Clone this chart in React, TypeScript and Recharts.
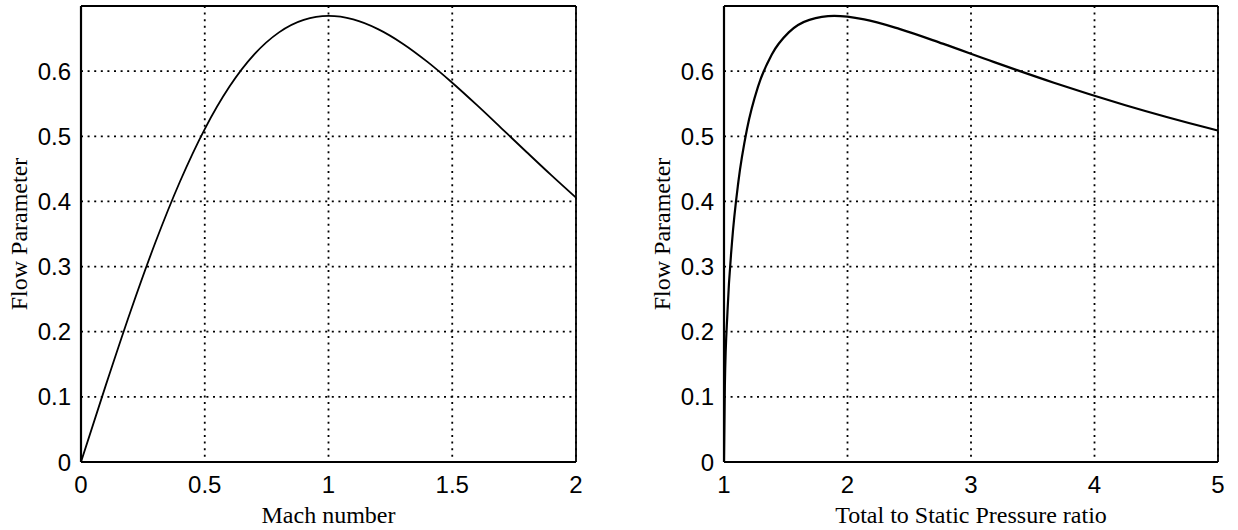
import React from 'react';
import { LineChart, Line, XAxis, YAxis, CartesianGrid, ReferenceLine, Label } from 'recharts';

// Left panel: Mach number vs flow parameter
const machNumbers = [0, 0.1, 0.2, 0.3, 0.4, 0.5, 0.6, 0.7, 0.8, 0.9, 1.0, 1.1, 1.2, 1.3, 1.4, 1.5, 1.6, 1.7, 1.8, 1.9, 2.0];
const flowParamMach = [0, 0.1176, 0.2311, 0.3365, 0.4306, 0.5111, 0.5763, 0.6257, 0.6595, 0.6787, 0.6847, 0.6794, 0.6645, 0.6422, 0.6142, 0.5822, 0.5477, 0.5119, 0.4759, 0.4403, 0.4058];

// Right panel: total-to-static pressure ratio vs flow parameter
const pressureRatios = [1, 1.007, 1.0283, 1.0644, 1.1166, 1.1862, 1.2755, 1.3871, 1.5243, 1.6913, 1.8929, 2.1351, 2.425, 2.7707, 3.1823, 3.671, 4.2504, 4.936, 5];
const flowParamRatio = [0, 0.1176, 0.2311, 0.3365, 0.4306, 0.5111, 0.5763, 0.6257, 0.6595, 0.6787, 0.6847, 0.6794, 0.6645, 0.6422, 0.6142, 0.5822, 0.5477, 0.5119, 0.5088];

const yTicks = [0, 0.1, 0.2, 0.3, 0.4, 0.5, 0.6];
const machTicks = [0, 0.5, 1, 1.5, 2];
const ratioTicks = [1, 2, 3, 4, 5];

const leftData = machNumbers.map((x, i) => ({ x, y: flowParamMach[i] }));
const rightData = pressureRatios.map((x, i) => ({ x, y: flowParamRatio[i] }));

const SANS = 'Liberation Sans, Arial, Helvetica, sans-serif';
const SERIF = 'Liberation Serif, Times New Roman, Times, serif';
const tickStyle = { fill: '#000', fontSize: 24, fontFamily: SANS };
const labelStyle = { fill: '#000', fontSize: 24, fontFamily: SERIF };

type PanelProps = {
  data: { x: number; y: number }[];
  width: number;
  yAxisWidth: number;
  rightMargin: number;
  xDomain: [number, number];
  xTicks: number[];
  xLabel: string;
  yLabelOffset: number;
  lineWidth: number;
};

function Panel(p: PanelProps) {
  return (
    <LineChart width={p.width} height={530} data={p.data} margin={{ top: 6, right: p.rightMargin, bottom: 0, left: 0 }}>
      <CartesianGrid stroke="#000" strokeDasharray="2 4.6" strokeWidth={1.8} />
      <XAxis
        type="number"
        dataKey="x"
        domain={p.xDomain}
        ticks={p.xTicks}
        allowDataOverflow
        tickLine={false}
        tickSize={0}
        tickMargin={14}
        height={68}
        axisLine={{ stroke: '#000', strokeWidth: 2.2 }}
        tick={tickStyle}
      >
        <Label value={p.xLabel} position="insideBottom" offset={7} style={labelStyle} />
      </XAxis>
      <YAxis
        type="number"
        domain={[0, 0.7]}
        ticks={yTicks}
        allowDataOverflow
        tickLine={false}
        tickSize={0}
        tickMargin={10}
        width={p.yAxisWidth}
        axisLine={{ stroke: '#000', strokeWidth: 2.2 }}
        tick={tickStyle}
      >
        <Label value="Flow Parameter" angle={-90} position="insideLeft" offset={p.yLabelOffset} style={{ ...labelStyle, textAnchor: 'middle' }} />
      </YAxis>
      <ReferenceLine y={0.7} stroke="#000" strokeWidth={1.8} />
      <ReferenceLine x={p.xDomain[1]} stroke="#000" strokeWidth={1.8} />
      <Line type="monotone" dataKey="y" stroke="#000" strokeWidth={p.lineWidth} dot={false} isAnimationActive={false} />
    </LineChart>
  );
}

export default function App() {
  return (
    <div style={{ position: 'fixed', top: 0, left: 0, width: 1238, height: 530, background: '#fff' }}>
      <div style={{ position: 'absolute', left: 0, top: 0 }}>
        <Panel data={leftData} width={620} yAxisWidth={81} rightMargin={44} xDomain={[0, 2]} xTicks={machTicks} xLabel="Mach number" yLabelOffset={18} lineWidth={1.8} />
      </div>
      <div style={{ position: 'absolute', left: 620, top: 0 }}>
        <Panel data={rightData} width={618} yAxisWidth={104} rightMargin={20} xDomain={[1, 5]} xTicks={ratioTicks} xLabel="Total to Static Pressure ratio" yLabelOffset={41} lineWidth={2.2} />
      </div>
    </div>
  );
}
